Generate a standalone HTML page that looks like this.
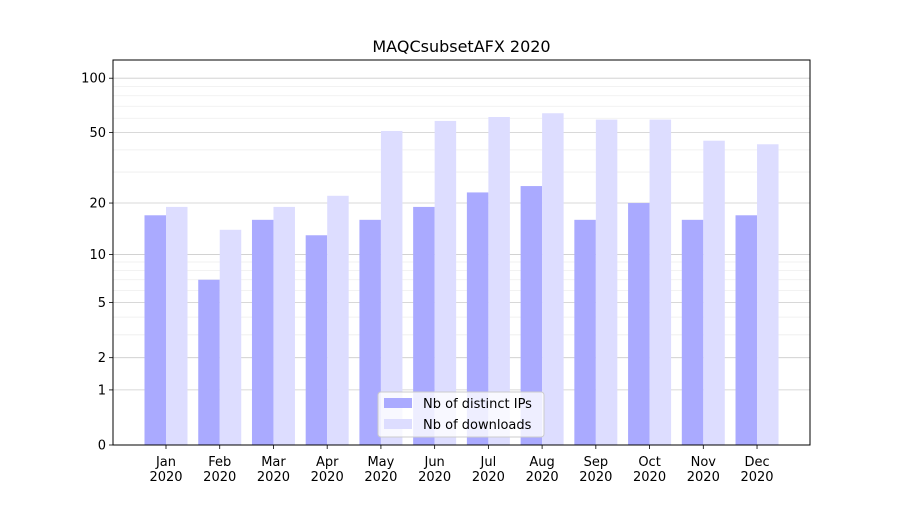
<!DOCTYPE html>
<html><head><meta charset="utf-8"><style>
body{margin:0;background:#fff;font-family:"Liberation Sans","DejaVu Sans",sans-serif;}
svg text{font-family:"DejaVu Sans","Liberation Sans",sans-serif;}
</style></head><body>
<svg id="chart" width="900" height="500" xmlns="http://www.w3.org/2000/svg"></svg>
<script>
const months = ["Jan","Feb","Mar","Apr","May","Jun","Jul","Aug","Sep","Oct","Nov","Dec"];
const distinctIPs = [17,7,16,13,16,19,23,25,16,20,16,17];
const downloads = [19,14,19,22,51,58,61,64,59,59,45,43];
const majorTicks = [0,1,2,5,10,20,50,100];
const minorTicks = [3,4,6,7,8,9,30,40,60,70,80,90];

const svg = document.getElementById('chart');
const NS = 'http://www.w3.org/2000/svg';
const L=113,R=810,T=60,B=445;
function y(v){return B-183*Math.log10(1+v);}
function xc(i){return 166+i*53.73;}
function mk(tag,attrs,parent){const e=document.createElementNS(NS,tag);for(const k in attrs)e.setAttribute(k,attrs[k]);(parent||svg).appendChild(e);return e;}

minorTicks.forEach(v=>{
  const g=mk('line',{x1:L,x2:R,y1:y(v),y2:y(v),stroke:'#eeeeee','stroke-width':0.8});
  
  
});
majorTicks.forEach(v=>{
  const g=mk('line',{x1:L,x2:R,y1:y(v),y2:y(v),stroke:'#cccccc','stroke-width':0.8});
  
  
  const t=mk('line',{x1:L-4,x2:L,y1:y(v),y2:y(v),stroke:'#000','stroke-width':0.8});
  
  
  const l=mk('text',{x:L-7,y:y(v)+4.5,'text-anchor':'end','font-size':13});
  l.textContent=v;
  
  
});
const bw=21.5;
months.forEach((m,i)=>{
  const c=xc(i);
  const b1=mk('rect',{x:c-bw,y:y(distinctIPs[i]),width:bw,height:B-y(distinctIPs[i]),fill:'#aaaaff'});
  
  
  const b2=mk('rect',{x:c,y:y(downloads[i]),width:bw,height:B-y(downloads[i]),fill:'#ddddff'});
  
  
  const tk=mk('line',{x1:c,x2:c,y1:B,y2:B+4,stroke:'#000','stroke-width':0.8});
  
  
  const t1=mk('text',{x:c,y:B+21,'text-anchor':'middle','font-size':13});
  t1.textContent=m;
  
  
  const t2=mk('text',{x:c,y:B+36,'text-anchor':'middle','font-size':13});
  t2.textContent='2020';
  
  
});
const frame=mk('rect',{x:L,y:T,width:R-L,height:B-T,fill:'none',stroke:'#000','stroke-width':1});


const title=mk('text',{x:(L+R)/2,y:52,'text-anchor':'middle','font-size':16});
title.textContent='MAQCsubsetAFX 2020';


const lg=mk('g',{});


mk('rect',{x:378,y:392,width:166,height:45,rx:3,fill:'rgba(255,255,255,0.8)',stroke:'#cccccc'},lg);
mk('rect',{x:384,y:398,width:28,height:10,fill:'#aaaaff'},lg);
mk('rect',{x:384,y:419,width:28,height:10,fill:'#ddddff'},lg);
const le1=mk('text',{x:423,y:408,'font-size':13},lg);le1.textContent='Nb of distinct IPs';


const le2=mk('text',{x:423,y:429,'font-size':13},lg);le2.textContent='Nb of downloads';


</script>
</body></html>
